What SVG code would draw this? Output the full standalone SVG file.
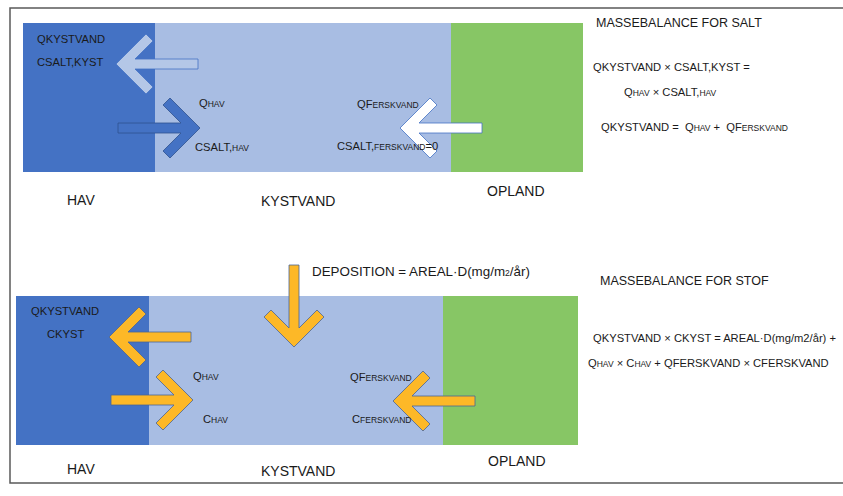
<svg xmlns="http://www.w3.org/2000/svg" xmlns:xlink="http://www.w3.org/1999/xlink" width="843" height="496" viewBox="0 0 843 496">
<style>
text{font-family:"Liberation Sans",Arial,sans-serif;fill:#1a1a1a}
.t{font-size:11.2px}
.s{font-size:8.5px}
.lbl{font-size:14px}
.hd{font-size:12.5px}
.dep{font-size:13.4px}
.hav{fill:#4472C4}
.kyst{fill:#A8BDE3}
.opl{fill:#87C665}
.aL{fill:#B4C7E7;stroke:#4472C4;stroke-width:0.8}
.aD{fill:#4472C4;stroke:#2F528F;stroke-width:0.8}
.aW{fill:#FFFFFF;stroke:#4472C4;stroke-width:0.8}
.aO{fill:#FDB827;stroke:#4A6595;stroke-width:0.8}
</style>
<defs>
<path id="arr" d="M0,0 L-30,-30 L-37,-23 L-19,-5 L-82,-5 L-82,5 L-19,5 L-37,23 L-30,30 Z"/>
</defs>
<rect width="843" height="496" fill="#fff"/>
<path d="M843,8 H10 V483 H843" fill="none" stroke="#595959" stroke-width="1.5"/>

<g id="top-hav">
<rect class="hav" x="23" y="23" width="132" height="149"/>
<text class="lbl" x="67" y="205">HAV</text>
</g>
<g id="top-kystvand">
<rect class="kyst" x="155" y="23" width="296" height="149"/>
<text class="lbl" x="261" y="206">KYSTVAND</text>
</g>
<g id="top-opland">
<rect class="opl" x="451" y="23" width="132" height="149"/>
<text class="lbl" x="487" y="196">OPLAND</text>
</g>

<g id="bottom-hav">
<rect class="hav" x="16" y="296" width="133" height="149"/>
<text class="lbl" x="67" y="474">HAV</text>
</g>
<g id="bottom-kystvand">
<rect class="kyst" x="149" y="296" width="294" height="149"/>
<text class="lbl" x="261" y="476">KYSTVAND</text>
</g>
<g id="bottom-opland">
<rect class="opl" x="443" y="296" width="135" height="149"/>
<text class="lbl" x="488" y="466">OPLAND</text>
</g>

<g id="connectors">
<use xlink:href="#arr" class="aL" transform="translate(116,64) rotate(180)"/>
<use xlink:href="#arr" class="aD" transform="translate(200,128)"/>
<use xlink:href="#arr" class="aW" transform="translate(400,128) rotate(180)"/>
<use xlink:href="#arr" class="aO" transform="translate(109,337) rotate(180)"/>
<use xlink:href="#arr" class="aO" transform="translate(193,400)"/>
<use xlink:href="#arr" class="aO" transform="translate(393,401) rotate(180)"/>
<use xlink:href="#arr" class="aO" transform="translate(294,347) rotate(90)"/>
</g>

<g id="top-labels">
<text class="t" x="37" y="43">QKYSTVAND</text>
<text class="t" x="37" y="66">CSALT,KYST</text>
<text class="t" x="199" y="107">Q<tspan class="s">HAV</tspan></text>
<text class="t" x="195" y="151">CSALT,<tspan class="s">HAV</tspan></text>
<text class="t" x="357" y="108">QF<tspan class="s">ERSKVAND</tspan></text>
<text class="t" x="337" y="150">CSALT,<tspan class="s">FERSKVAND</tspan>=0</text>
</g>

<g id="salt-balance">
<text class="hd" x="596" y="27">MASSEBALANCE FOR SALT</text>
<text class="t" x="593" y="71">QKYSTVAND × CSALT,KYST =</text>
<text class="t" x="624" y="96">Q<tspan class="s">HAV</tspan> × CSALT,<tspan class="s">HAV</tspan></text>
<text class="t" x="601" y="131">QKYSTVAND = <tspan dx="3">Q</tspan><tspan class="s">HAV</tspan> + <tspan dx="3">QF</tspan><tspan class="s">ERSKVAND</tspan></text>
</g>

<g id="bottom-labels">
<text class="dep" x="312" y="276">DEPOSITION = AREAL·D(mg/m<tspan class="s">2</tspan>/år)</text>
<text class="t" x="31" y="315">QKYSTVAND</text>
<text class="t" x="47" y="338">CKYST</text>
<text class="t" x="193" y="380">Q<tspan class="s">HAV</tspan></text>
<text class="t" x="203" y="423">C<tspan class="s">HAV</tspan></text>
<text class="t" x="350" y="381">QF<tspan class="s">ERSKVAND</tspan></text>
<text class="t" x="352" y="423">C<tspan class="s">FERSKVAND</tspan></text>
</g>

<g id="stof-balance">
<text class="hd" x="600" y="285">MASSEBALANCE FOR STOF</text>
<text class="t" x="593" y="342">QKYSTVAND × CKYST = AREAL·D(mg/m2/år) +</text>
<text class="t" x="588" y="367">Q<tspan class="s">HAV</tspan> × C<tspan class="s">HAV</tspan> + QFERSKVAND × CFERSKVAND</text>
</g>
</svg>
